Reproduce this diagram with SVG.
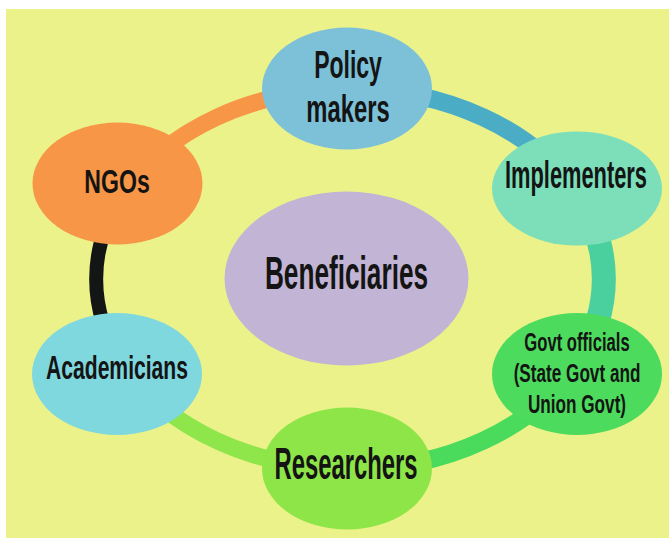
<svg xmlns="http://www.w3.org/2000/svg" width="669" height="539" viewBox="0 0 669 539">
<style>
.t{font-family:"Liberation Sans","DejaVu Sans",sans-serif;font-weight:bold;fill:#141414;text-anchor:middle}
.c{fill:none;stroke-linecap:butt}
</style>
<rect x="0" y="0" width="669" height="539" fill="#ffffff"/>
<rect x="6" y="9" width="663" height="529" fill="#ECF28A"/>
<g id="connectors">
<path class="c" d="M123,194 A254,190 0 0 1 350,89" stroke="#F79646" stroke-width="17"/>
<path class="c" d="M350,89 A254,190 0 0 1 577,194" stroke="#4BACC6" stroke-width="18"/>
<path class="c" d="M577,194 A254,190 0 0 1 577,364" stroke="#4ACF9E" stroke-width="24"/>
<path class="c" d="M577,364 A254,190 0 0 1 350,469" stroke="#4ADB5C" stroke-width="18"/>
<path class="c" d="M350,469 A254,190 0 0 1 123,364" stroke="#8EE64A" stroke-width="17"/>
<path class="c" d="M123,364 A254,190 0 0 1 123,194" stroke="#141616" stroke-width="14"/>
</g>
<g id="beneficiaries">
<ellipse cx="346.5" cy="278.5" rx="122" ry="87" fill="#C2B4D4"/>
<text class="t" transform="translate(346.5,289) scale(0.57,1)" font-size="46">Beneficiaries</text>
</g>
<g id="policy-makers">
<ellipse cx="347" cy="88.5" rx="85" ry="61" fill="#7DC1D8"/>
<text class="t" transform="translate(348,78) scale(0.59,1)" font-size="39">Policy</text>
<text class="t" transform="translate(348,122) scale(0.61,1)" font-size="39">makers</text>
</g>
<g id="implementers">
<ellipse cx="577" cy="188.5" rx="85" ry="57" fill="#7CDFBA"/>
<text class="t" transform="translate(576,188) scale(0.56,1)" font-size="39">Implementers</text>
</g>
<g id="govt-officials">
<ellipse cx="577" cy="374" rx="85" ry="61" fill="#4CDB5C"/>
<text class="t" transform="translate(577,350.5) scale(0.64,1)" font-size="26">Govt officials</text>
<text class="t" transform="translate(577,382) scale(0.66,1)" font-size="26">(State Govt and</text>
<text class="t" transform="translate(577,413) scale(0.66,1)" font-size="26">Union Govt)</text>
</g>
<g id="researchers">
<ellipse cx="347" cy="468.5" rx="85" ry="61" fill="#8EE548"/>
<text class="t" transform="translate(346,479) scale(0.53,1)" font-size="45">Researchers</text>
</g>
<g id="academicians">
<ellipse cx="117" cy="374" rx="85" ry="61" fill="#80D8DF"/>
<text class="t" transform="translate(117,379) scale(0.64,1)" font-size="33">Academicians</text>
</g>
<g id="ngos">
<ellipse cx="117.5" cy="183.5" rx="85" ry="61" fill="#F79646"/>
<text class="t" transform="translate(117,193) scale(0.68,1)" font-size="34">NGOs</text>
</g>
</svg>
